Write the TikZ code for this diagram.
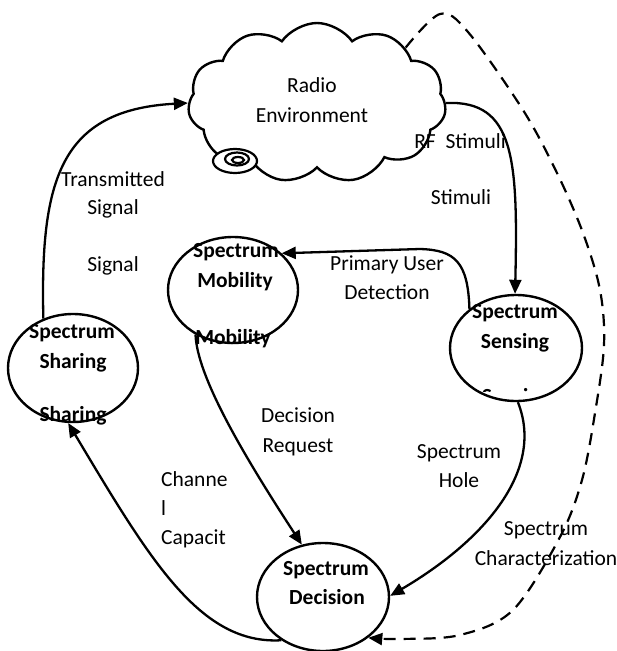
\documentclass[tikz,border=0pt]{standalone}
\usepackage{fontspec}
\setmainfont{Carlito}
\usetikzlibrary{shapes.geometric,shapes.symbols,arrows.meta}

\tikzset{
  state/.style={draw, ellipse, line width=2.4pt, inner sep=0pt},
  flow/.style={line width=2.3pt, -{Triangle[length=14pt,width=12pt]}},
  lbl/.style={font=\fontsize{21.5}{25}\selectfont, inner sep=0pt, anchor=base},
  blbl/.style={font=\fontsize{21.5}{25}\selectfont\bfseries, inner sep=0pt, anchor=base},
  bubble/.style={draw, fill=white, line width=2.2pt},
}

\begin{document}
\begin{tikzpicture}[x=1pt,y=-1pt]
\useasboundingbox (0,0) rectangle (617,651);

% radio environment cloud
\node[cloud, draw, fill=white, line width=2.4pt, cloud puffs=11, cloud puff arc=110,
      aspect=1.6, minimum width=258pt, minimum height=160pt, inner sep=0pt]
      (env) at (317,103) {};

% thought bubbles at the foot of the cloud
\draw[bubble] (235,161) ellipse [x radius=22, y radius=12];
\draw[bubble] (237,159) ellipse [x radius=12, y radius=6.5];
\draw[bubble] (238,160) ellipse [x radius=6, y radius=3];

% third line of the sensing label, hidden under the ellipse but for its top
\begin{scope}
  \clip (440,386) rectangle (600,391);
  \node[blbl] (n3) at (516,403) {Sensing};
\end{scope}

% the four functions
\node[state, minimum width=130pt, minimum height=106pt] (mob) at (233,290) {};
\node[state, minimum width=130pt, minimum height=108pt] (share) at (73,368) {};
\node[state, minimum width=132pt, minimum height=106pt] (sense) at (516,348) {};
\node[state, minimum width=132pt, minimum height=108pt] (dec) at (323,597) {};

% labels inside the cloud
\node[lbl] (tRadio) at (312,92) {Radio};
\node[lbl] (tEnv) at (312,122) {Environment};

% labels of the functions
\node[blbl] (m1) at (236,257) {Spectrum};
\node[blbl] (m2) at (235,287) {Mobility};
\node[blbl] (m3) at (233,344) {Mobility};
\node[blbl] (s1) at (72,338) {Spectrum};
\node[blbl] (s2) at (73,368) {Sharing};
\node[blbl] (s3) at (73,421) {Sharing};
\node[blbl] (n1) at (515,318) {Spectrum};
\node[blbl] (n2) at (515,348) {Sensing};
\node[blbl] (d1) at (326,575) {Spectrum};
\node[blbl] (d2) at (327,604) {Decision};

% cycle connectors
\draw[flow] (env.east) .. controls (515,100) and (518,160) .. (sense.91);
\draw[flow] (sense.140) .. controls (468,262) and (455,250) .. (420,249) -- (mob.37);
\draw[flow] (mob.230) .. controls (197,375) and (240,450) .. (dec.112);
\draw[flow] (sense.272) .. controls (545,470) and (485,540) .. (dec.1);
\draw[flow] (dec.226) .. controls (200,645) and (150,560) .. (share.265);
\draw[flow] (share.121) .. controls (40,180) and (60,110) .. (env.west);

% spectrum characterization feedback
\draw[line width=2.2pt, dash pattern=on 12pt off 8pt, -{Triangle[length=14pt,width=12pt]}]
  plot[smooth, tension=0.55] coordinates {(env.32) (440,14) (468,32) (523,110) (557,173)
  (583,233) (600,290) (604,345) (595,413) (582,480) (560,537) (513,610) (460,635)
  (400,639) (dec.318)};

% connector labels
\node[lbl] (lRF) at (460,148) {RF\ \ Stimuli};
\node[lbl] (lSt) at (461,204) {Stimuli};
\node[lbl] (lPU) at (387,270) {Primary User};
\node[lbl] (lDet) at (387,299) {Detection};
\node[lbl] (lDec) at (298,422) {Decision};
\node[lbl] (lReq) at (298,452) {Request};
\node[lbl] (lSp) at (459,458) {Spectrum};
\node[lbl] (lHole) at (459,487) {Hole};
\node[lbl] (lSc) at (546,535) {Spectrum};
\node[lbl] (lChar) at (546,565) {Characterization};
\node[lbl, anchor=base west] (lCh1) at (161,486) {Channe};
\node[lbl, anchor=base west] (lCh2) at (161,515) {l};
\node[lbl, anchor=base west] (lCh3) at (161,544) {Capacit};
\node[lbl] (lTr) at (113,186) {Transmitted};
\node[lbl] (lSig) at (113,214) {Signal};
\node[lbl] (lSig2) at (113,271) {Signal};
\end{tikzpicture}
\end{document}
